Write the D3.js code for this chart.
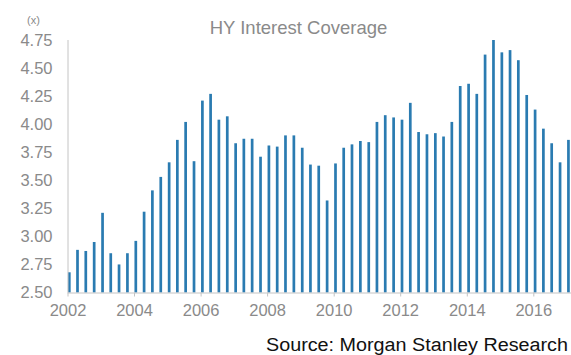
<!DOCTYPE html>
<html>
<head>
<meta charset="utf-8">
<script src="https://cdn.jsdelivr.net/npm/d3@7"></script>
<style>
  html, body { margin: 0; padding: 0; background: #fff; }
  svg { display: block; }
</style>
</head>
<body>
<svg id="chart" width="571" height="355"></svg>
<script>
// HY interest coverage, quarterly from 1Q 2002 to 1Q 2017 (x)
const coverage = [
  2.68, 2.88, 2.87, 2.95, 3.21, 2.85, 2.75, 2.85,
  2.96, 3.22, 3.41, 3.53, 3.66, 3.86, 4.02, 3.67,
  4.21, 4.27, 4.04, 4.07, 3.83, 3.87, 3.87, 3.71,
  3.81, 3.80, 3.90, 3.90, 3.79, 3.64, 3.63, 3.32,
  3.65, 3.79, 3.82, 3.85, 3.84, 4.02, 4.08, 4.06,
  4.04, 4.19, 3.93, 3.91, 3.92, 3.89, 4.02, 4.34,
  4.36, 4.27, 4.62, 4.75, 4.64, 4.66, 4.57, 4.26,
  4.13, 3.96, 3.83, 3.66, 3.86
];
const startQuarter = new Date(2002, 0, 1);
const quarters = coverage.map((_, i) => d3.timeMonth.offset(startQuarter, 3 * i));

const yTicks = [2.50, 2.75, 3.00, 3.25, 3.50, 3.75, 4.00, 4.25, 4.50, 4.75];
const xTickYears = [2002, 2004, 2006, 2008, 2010, 2012, 2014, 2016];

const titleText = "HY Interest Coverage";
const unitText = "(x)";
const sourceText = "Source: Morgan Stanley Research";

const svg = d3.select("#chart");
const grey = "#8a8a8a";
const axisGrey = "#c4c4c4";
const barBlue = "#2a7bb1";

const x = d3.scaleTime()
  .domain([new Date(2002, 0, 1), new Date(2016, 0, 1)])
  .range([67.5, 533.3]);
const y = d3.scaleLinear().domain([2.5, 4.75]).range([292.5, 40]);

// bars
const barW = 2.7;
const barShift = 1.8;
svg.append("g").selectAll("rect")
  .data(coverage)
  .join("rect")
  .attr("x", (d, i) => x(quarters[i]) + barShift - barW / 2)
  .attr("y", d => y(d))
  .attr("width", barW)
  .attr("height", d => y(2.5) - y(d))
  .attr("fill", barBlue);

// y axis
const yAxis = svg.append("g")
  .attr("transform", `translate(${x.range()[0]},0)`)
  .call(d3.axisLeft(y).tickValues(yTicks).tickFormat(d3.format(".2f")).tickSize(0).tickPadding(15));
yAxis.select(".domain").attr("stroke", axisGrey).attr("d", `M0.5,${y(4.75)}V${y(2.5)}`);
yAxis.selectAll("text")
  .attr("fill", grey)
  .attr("font-family", "Liberation Sans, Arial, sans-serif")
  .attr("font-size", "16.5px");

// x axis
const xAxis = svg.append("g")
  .attr("transform", `translate(0,${y(2.5)})`)
  .call(d3.axisBottom(x)
    .tickValues(xTickYears.map(yr => new Date(yr, 0, 1)))
    .tickFormat(d3.timeFormat("%Y"))
    .tickSize(4).tickSizeOuter(0).tickPadding(8));
xAxis.select(".domain").attr("stroke", axisGrey).attr("d", `M${x.range()[0]},0.5H571`);
xAxis.selectAll("line").attr("stroke", axisGrey);
xAxis.selectAll("text")
  .attr("fill", grey)
  .attr("font-family", "Liberation Sans, Arial, sans-serif")
  .attr("font-size", "16.5px");

// title, unit and source
svg.append("text")
  .attr("x", 298.5).attr("y", 33.5)
  .attr("text-anchor", "middle")
  .attr("fill", grey)
  .attr("font-family", "Liberation Sans, Arial, sans-serif")
  .attr("font-size", "18.5px")
  .text(titleText);

svg.append("text")
  .attr("x", 33.5).attr("y", 23.5)
  .attr("text-anchor", "middle")
  .attr("fill", grey)
  .attr("font-family", "Liberation Sans, Arial, sans-serif")
  .attr("font-size", "11px")
  .text(unitText);

svg.append("text")
  .attr("x", 568).attr("y", 351)
  .attr("text-anchor", "end")
  .attr("fill", "#111")
  .attr("font-family", "Liberation Sans, Arial, sans-serif")
  .attr("font-size", "18px")
  .attr("textLength", 302)
  .attr("lengthAdjust", "spacingAndGlyphs")
  .text(sourceText);
</script>
</body>
</html>
